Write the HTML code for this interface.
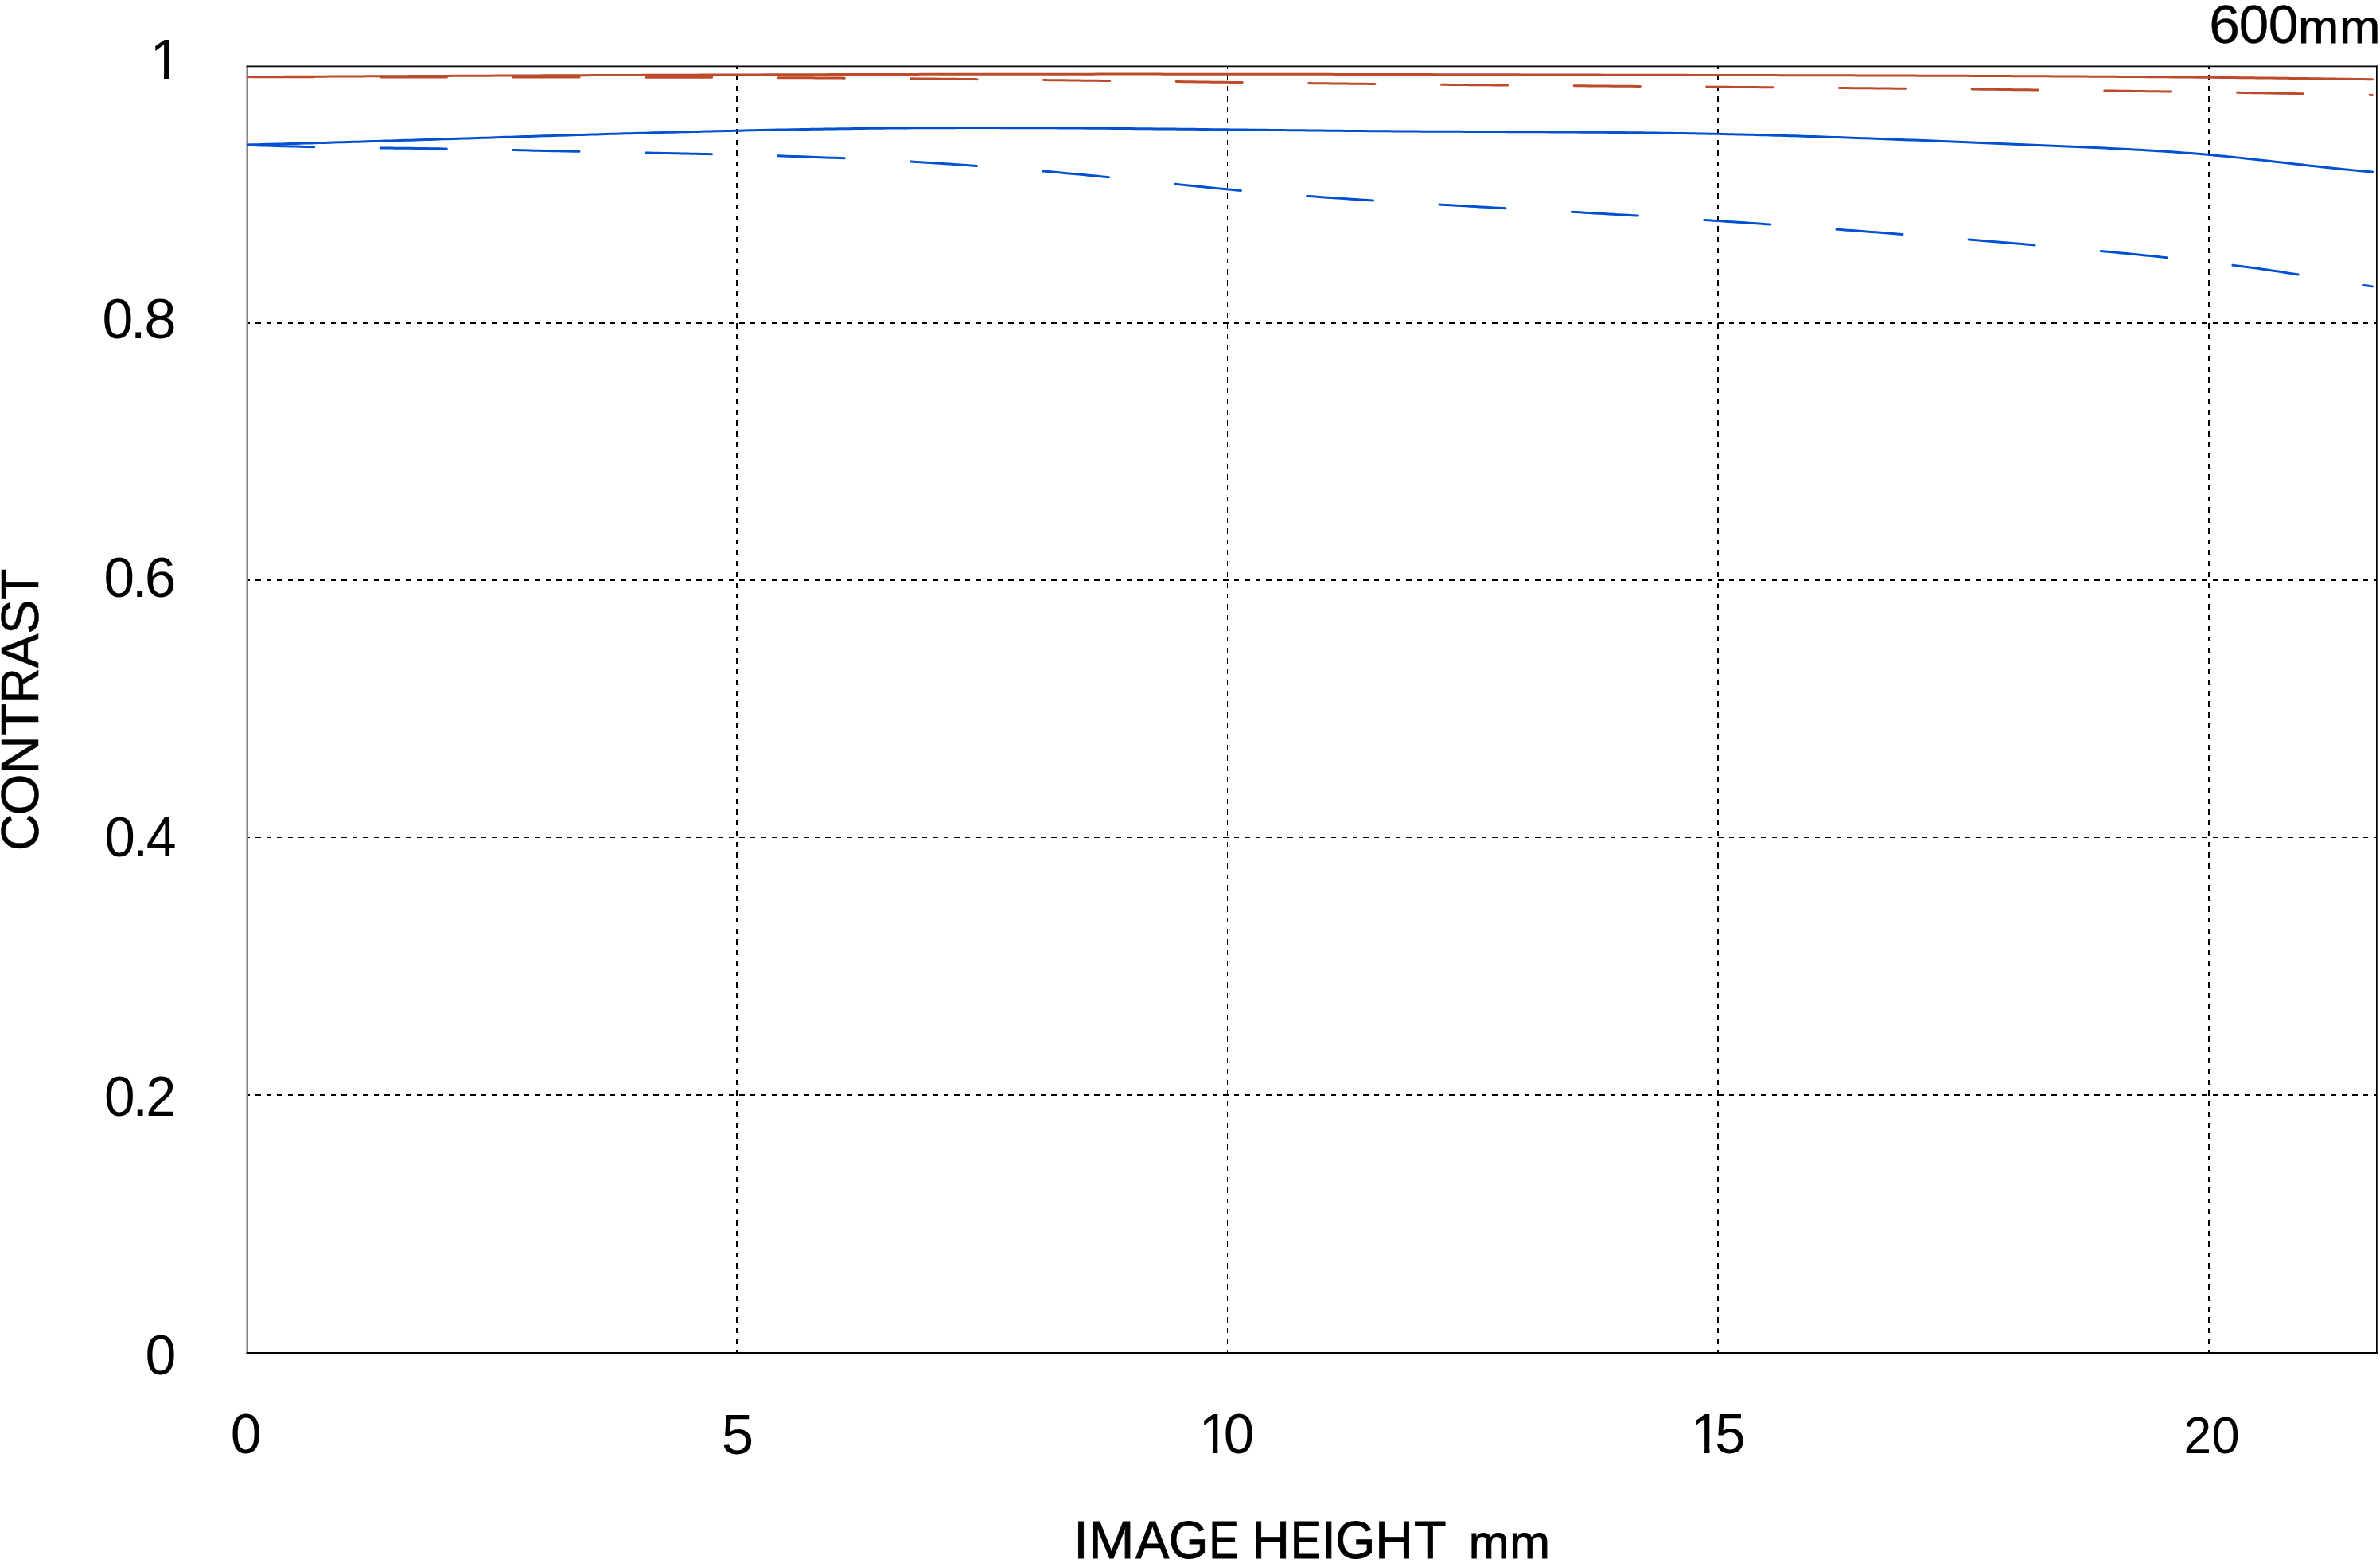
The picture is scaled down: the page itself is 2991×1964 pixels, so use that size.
<!DOCTYPE html><html><head><meta charset="utf-8"><title>MTF 600mm</title><style>html,body{margin:0;padding:0;background:#fff;width:2991px;height:1964px;overflow:hidden}svg{display:block}text{font-family:"Liberation Sans",Arial,sans-serif;fill:#000}</style></head><body>
<svg width="2991" height="1964" viewBox="0 0 2991 1964">
<rect width="2991" height="1964" fill="#fff"/>
<g stroke="#000" fill="none" shape-rendering="crispEdges">
<line x1="926" y1="84" x2="926" y2="1699" stroke-width="2" stroke-dasharray="6.5 7.075" stroke-dashoffset="-10.075"/>
<line x1="1542.5" y1="84" x2="1542.5" y2="1699" stroke-width="1" stroke-dasharray="6.5 7.075" stroke-dashoffset="-10.075"/>
<line x1="2159" y1="84" x2="2159" y2="1699" stroke-width="2" stroke-dasharray="6.5 7.075" stroke-dashoffset="-10.075"/>
<line x1="2776" y1="84" x2="2776" y2="1699" stroke-width="2" stroke-dasharray="6.5 7.075" stroke-dashoffset="-10.075"/>
<line x1="312" y1="406" x2="2986" y2="406" stroke-width="2" stroke-dasharray="6.5 7.015" stroke-dashoffset="-9.000"/>
<line x1="312" y1="729" x2="2986" y2="729" stroke-width="2" stroke-dasharray="6.5 7.015" stroke-dashoffset="-9.000"/>
<line x1="312" y1="1052.5" x2="2986" y2="1052.5" stroke-width="1" stroke-dasharray="6.5 7.015" stroke-dashoffset="-9.000"/>
<line x1="312" y1="1376" x2="2986" y2="1376" stroke-width="2" stroke-dasharray="6.5 7.015" stroke-dashoffset="-9.000"/>
</g>
<g stroke="#000" fill="none"><line x1="309.7" y1="83.35" x2="2987.7" y2="83.35" stroke-width="1.75"/><line x1="309.7" y1="1700.05" x2="2987.7" y2="1700.05" stroke-width="1.9"/><line x1="310.6" y1="82.5" x2="310.6" y2="1701" stroke-width="1.75"/><line x1="2986.85" y1="82.5" x2="2986.85" y2="1701" stroke-width="1.7"/></g>
<g fill="none" stroke-width="3" stroke-linecap="round" stroke-linejoin="round">
<path stroke="#bd4a2b" d="M311.5 96.61 L317.5 96.58 L323.5 96.55 L329.5 96.52 L335.5 96.49 L341.5 96.46 L347.5 96.43 L353.5 96.40 L359.5 96.37 L365.5 96.34 L371.5 96.31 L377.5 96.28 L383.5 96.25 L389.5 96.22 L395.5 96.19 L401.5 96.16 L407.5 96.13 L413.5 96.10 L419.5 96.07 L425.5 96.05 L431.5 96.02 L437.5 95.99 L443.5 95.96 L449.5 95.93 L455.5 95.90 L461.5 95.87 L467.5 95.84 L473.5 95.81 L479.5 95.78 L485.5 95.76 L491.5 95.73 L497.5 95.70 L503.5 95.67 L509.5 95.64 L515.5 95.61 L521.5 95.59 L527.5 95.56 L533.5 95.53 L539.5 95.50 L545.5 95.47 L551.5 95.45 L557.5 95.42 L563.5 95.39 L569.5 95.36 L575.5 95.34 L581.5 95.31 L587.5 95.28 L593.5 95.26 L599.5 95.23 L605.5 95.20 L611.5 95.18 L617.5 95.15 L623.5 95.12 L629.5 95.10 L635.5 95.07 L641.5 95.04 L647.5 95.02 L653.5 94.99 L659.5 94.97 L665.5 94.94 L671.5 94.91 L677.5 94.89 L683.5 94.86 L689.5 94.84 L695.5 94.81 L701.5 94.79 L707.5 94.76 L713.5 94.74 L719.5 94.72 L725.5 94.69 L731.5 94.67 L737.5 94.64 L743.5 94.62 L749.5 94.59 L755.5 94.57 L761.5 94.55 L767.5 94.52 L773.5 94.50 L779.5 94.48 L785.5 94.45 L791.5 94.43 L797.5 94.41 L803.5 94.39 L809.5 94.36 L815.5 94.34 L821.5 94.32 L827.5 94.30 L833.5 94.28 L839.5 94.26 L845.5 94.23 L851.5 94.21 L857.5 94.19 L863.5 94.17 L869.5 94.15 L875.5 94.13 L881.5 94.11 L887.5 94.09 L893.5 94.07 L899.5 94.05 L905.5 94.03 L911.5 94.01 L917.5 93.99 L923.5 93.97 L929.5 93.95 L935.5 93.93 L941.5 93.91 L947.5 93.89 L953.5 93.88 L959.5 93.86 L965.5 93.84 L971.5 93.82 L977.5 93.81 L983.5 93.79 L989.5 93.77 L995.5 93.75 L1001.5 93.74 L1007.5 93.72 L1013.5 93.70 L1019.5 93.69 L1025.5 93.67 L1031.5 93.66 L1037.5 93.64 L1043.5 93.62 L1049.5 93.61 L1055.5 93.59 L1061.5 93.58 L1067.5 93.56 L1073.5 93.55 L1079.5 93.54 L1085.5 93.52 L1091.5 93.51 L1097.5 93.49 L1103.5 93.48 L1109.5 93.47 L1115.5 93.46 L1121.5 93.44 L1127.5 93.43 L1133.5 93.42 L1139.5 93.41 L1145.5 93.39 L1151.5 93.38 L1157.5 93.37 L1163.5 93.36 L1169.5 93.35 L1175.5 93.34 L1181.5 93.33 L1187.5 93.32 L1193.5 93.31 L1199.5 93.30 L1205.5 93.29 L1211.5 93.28 L1217.5 93.27 L1223.5 93.26 L1229.5 93.25 L1235.5 93.25 L1241.5 93.24 L1247.5 93.23 L1253.5 93.22 L1259.5 93.21 L1265.5 93.21 L1271.5 93.20 L1277.5 93.19 L1283.5 93.19 L1289.5 93.18 L1295.5 93.18 L1301.5 93.17 L1307.5 93.17 L1313.5 93.16 L1319.5 93.16 L1325.5 93.15 L1331.5 93.15 L1337.5 93.14 L1343.5 93.14 L1349.5 93.14 L1355.5 93.13 L1361.5 93.13 L1367.5 93.13 L1373.5 93.13 L1379.5 93.12 L1385.5 93.12 L1391.5 93.12 L1397.5 93.12 L1403.5 93.12 L1409.5 93.12 L1415.5 93.12 L1421.5 93.12 L1427.5 93.12 L1433.5 93.12 L1439.5 93.12 L1445.5 93.12 L1451.5 93.12 L1457.5 93.12 L1463.5 93.13 L1469.5 93.13 L1475.5 93.13 L1481.5 93.13 L1487.5 93.14 L1493.5 93.14 L1499.5 93.15 L1505.5 93.15 L1511.5 93.15 L1517.5 93.16 L1523.5 93.16 L1529.5 93.17 L1535.5 93.17 L1541.5 93.18 L1547.5 93.19 L1553.5 93.19 L1559.5 93.20 L1565.5 93.21 L1571.5 93.21 L1577.5 93.22 L1583.5 93.23 L1589.5 93.23 L1595.5 93.24 L1601.5 93.25 L1607.5 93.26 L1613.5 93.27 L1619.5 93.28 L1625.5 93.29 L1631.5 93.30 L1637.5 93.30 L1643.5 93.31 L1649.5 93.32 L1655.5 93.33 L1661.5 93.34 L1667.5 93.35 L1673.5 93.37 L1679.5 93.38 L1685.5 93.39 L1691.5 93.40 L1697.5 93.41 L1703.5 93.42 L1709.5 93.43 L1715.5 93.44 L1721.5 93.46 L1727.5 93.47 L1733.5 93.48 L1739.5 93.49 L1745.5 93.50 L1751.5 93.52 L1757.5 93.53 L1763.5 93.54 L1769.5 93.56 L1775.5 93.57 L1781.5 93.58 L1787.5 93.59 L1793.5 93.61 L1799.5 93.62 L1805.5 93.63 L1811.5 93.65 L1817.5 93.66 L1823.5 93.68 L1829.5 93.69 L1835.5 93.70 L1841.5 93.72 L1847.5 93.73 L1853.5 93.75 L1859.5 93.76 L1865.5 93.77 L1871.5 93.79 L1877.5 93.80 L1883.5 93.82 L1889.5 93.83 L1895.5 93.84 L1901.5 93.86 L1907.5 93.87 L1913.5 93.89 L1919.5 93.90 L1925.5 93.92 L1931.5 93.93 L1937.5 93.95 L1943.5 93.96 L1949.5 93.97 L1955.5 93.99 L1961.5 94.00 L1967.5 94.02 L1973.5 94.03 L1979.5 94.05 L1985.5 94.06 L1991.5 94.08 L1997.5 94.09 L2003.5 94.10 L2009.5 94.12 L2015.5 94.13 L2021.5 94.15 L2027.5 94.16 L2033.5 94.17 L2039.5 94.19 L2045.5 94.20 L2051.5 94.22 L2057.5 94.23 L2063.5 94.24 L2069.5 94.26 L2075.5 94.27 L2081.5 94.28 L2087.5 94.30 L2093.5 94.31 L2099.5 94.32 L2105.5 94.34 L2111.5 94.35 L2117.5 94.36 L2123.5 94.38 L2129.5 94.39 L2135.5 94.40 L2141.5 94.42 L2147.5 94.43 L2153.5 94.44 L2159.5 94.46 L2165.5 94.47 L2171.5 94.48 L2177.5 94.50 L2183.5 94.51 L2189.5 94.52 L2195.5 94.54 L2201.5 94.55 L2207.5 94.56 L2213.5 94.58 L2219.5 94.59 L2225.5 94.61 L2231.5 94.62 L2237.5 94.63 L2243.5 94.65 L2249.5 94.66 L2255.5 94.68 L2261.5 94.69 L2267.5 94.71 L2273.5 94.72 L2279.5 94.74 L2285.5 94.75 L2291.5 94.77 L2297.5 94.78 L2303.5 94.80 L2309.5 94.82 L2315.5 94.83 L2321.5 94.85 L2327.5 94.87 L2333.5 94.88 L2339.5 94.90 L2345.5 94.92 L2351.5 94.94 L2357.5 94.96 L2363.5 94.97 L2369.5 94.99 L2375.5 95.01 L2381.5 95.03 L2387.5 95.05 L2393.5 95.07 L2399.5 95.09 L2405.5 95.11 L2411.5 95.13 L2417.5 95.15 L2423.5 95.17 L2429.5 95.20 L2435.5 95.22 L2441.5 95.24 L2447.5 95.26 L2453.5 95.29 L2459.5 95.31 L2465.5 95.34 L2471.5 95.36 L2477.5 95.39 L2483.5 95.41 L2489.5 95.44 L2495.5 95.46 L2501.5 95.49 L2507.5 95.52 L2513.5 95.54 L2519.5 95.57 L2525.5 95.60 L2531.5 95.63 L2537.5 95.66 L2543.5 95.69 L2549.5 95.72 L2555.5 95.75 L2561.5 95.78 L2567.5 95.81 L2573.5 95.84 L2579.5 95.88 L2585.5 95.91 L2591.5 95.95 L2597.5 95.98 L2603.5 96.01 L2609.5 96.05 L2615.5 96.09 L2621.5 96.12 L2627.5 96.16 L2633.5 96.20 L2639.5 96.24 L2645.5 96.28 L2651.5 96.32 L2657.5 96.36 L2663.5 96.40 L2669.5 96.44 L2675.5 96.48 L2681.5 96.52 L2687.5 96.57 L2693.5 96.61 L2699.5 96.66 L2705.5 96.70 L2711.5 96.75 L2717.5 96.80 L2723.5 96.84 L2729.5 96.89 L2735.5 96.94 L2741.5 96.99 L2747.5 97.04 L2753.5 97.10 L2759.5 97.15 L2765.5 97.20 L2771.5 97.26 L2777.5 97.31 L2783.5 97.37 L2789.5 97.42 L2795.5 97.48 L2801.5 97.54 L2807.5 97.60 L2813.5 97.66 L2819.5 97.72 L2825.5 97.78 L2831.5 97.85 L2837.5 97.91 L2843.5 97.98 L2849.5 98.04 L2855.5 98.11 L2861.5 98.18 L2867.5 98.25 L2873.5 98.32 L2879.5 98.39 L2885.5 98.46 L2891.5 98.53 L2897.5 98.61 L2903.5 98.68 L2909.5 98.76 L2915.5 98.84 L2921.5 98.91 L2927.5 98.99 L2933.5 99.07 L2939.5 99.16 L2945.5 99.24 L2951.5 99.32 L2957.5 99.41 L2963.5 99.50 L2969.5 99.58 L2975.5 99.67 L2981.5 99.76"/>
<path stroke="#bd4a2b" stroke-dasharray="83.20 83.47" d="M311.5 96.61 L317.5 96.63 L323.5 96.65 L329.5 96.67 L335.5 96.68 L341.5 96.70 L347.5 96.72 L353.5 96.73 L359.5 96.75 L365.5 96.76 L371.5 96.78 L377.5 96.79 L383.5 96.81 L389.5 96.82 L395.5 96.83 L401.5 96.84 L407.5 96.85 L413.5 96.86 L419.5 96.87 L425.5 96.88 L431.5 96.89 L437.5 96.90 L443.5 96.90 L449.5 96.91 L455.5 96.92 L461.5 96.93 L467.5 96.93 L473.5 96.94 L479.5 96.94 L485.5 96.95 L491.5 96.95 L497.5 96.96 L503.5 96.96 L509.5 96.97 L515.5 96.97 L521.5 96.97 L527.5 96.98 L533.5 96.98 L539.5 96.98 L545.5 96.98 L551.5 96.99 L557.5 96.99 L563.5 96.99 L569.5 96.99 L575.5 96.99 L581.5 97.00 L587.5 97.00 L593.5 97.00 L599.5 97.00 L605.5 97.00 L611.5 97.00 L617.5 97.00 L623.5 97.01 L629.5 97.01 L635.5 97.01 L641.5 97.01 L647.5 97.01 L653.5 97.01 L659.5 97.02 L665.5 97.02 L671.5 97.02 L677.5 97.02 L683.5 97.02 L689.5 97.03 L695.5 97.03 L701.5 97.03 L707.5 97.04 L713.5 97.04 L719.5 97.04 L725.5 97.05 L731.5 97.05 L737.5 97.05 L743.5 97.06 L749.5 97.06 L755.5 97.07 L761.5 97.08 L767.5 97.08 L773.5 97.09 L779.5 97.10 L785.5 97.10 L791.5 97.11 L797.5 97.12 L803.5 97.13 L809.5 97.14 L815.5 97.15 L821.5 97.16 L827.5 97.17 L833.5 97.18 L839.5 97.19 L845.5 97.20 L851.5 97.21 L857.5 97.23 L863.5 97.24 L869.5 97.26 L875.5 97.27 L881.5 97.29 L887.5 97.31 L893.5 97.32 L899.5 97.34 L905.5 97.36 L911.5 97.38 L917.5 97.40 L923.5 97.42 L929.5 97.44 L935.5 97.46 L941.5 97.49 L947.5 97.51 L953.5 97.54 L959.5 97.56 L965.5 97.59 L971.5 97.62 L977.5 97.65 L983.5 97.68 L989.5 97.71 L995.5 97.74 L1001.5 97.77 L1007.5 97.80 L1013.5 97.84 L1019.5 97.87 L1025.5 97.91 L1031.5 97.95 L1037.5 97.98 L1043.5 98.02 L1049.5 98.06 L1055.5 98.11 L1061.5 98.15 L1067.5 98.19 L1073.5 98.23 L1079.5 98.28 L1085.5 98.32 L1091.5 98.37 L1097.5 98.42 L1103.5 98.47 L1109.5 98.52 L1115.5 98.57 L1121.5 98.62 L1127.5 98.67 L1133.5 98.72 L1139.5 98.77 L1145.5 98.83 L1151.5 98.88 L1157.5 98.94 L1163.5 98.99 L1169.5 99.05 L1175.5 99.11 L1181.5 99.17 L1187.5 99.22 L1193.5 99.28 L1199.5 99.34 L1205.5 99.40 L1211.5 99.46 L1217.5 99.53 L1223.5 99.59 L1229.5 99.65 L1235.5 99.71 L1241.5 99.78 L1247.5 99.84 L1253.5 99.91 L1259.5 99.97 L1265.5 100.04 L1271.5 100.11 L1277.5 100.17 L1283.5 100.24 L1289.5 100.31 L1295.5 100.38 L1301.5 100.44 L1307.5 100.51 L1313.5 100.58 L1319.5 100.65 L1325.5 100.72 L1331.5 100.79 L1337.5 100.86 L1343.5 100.93 L1349.5 101.00 L1355.5 101.08 L1361.5 101.15 L1367.5 101.22 L1373.5 101.29 L1379.5 101.36 L1385.5 101.44 L1391.5 101.51 L1397.5 101.58 L1403.5 101.66 L1409.5 101.73 L1415.5 101.80 L1421.5 101.88 L1427.5 101.95 L1433.5 102.02 L1439.5 102.10 L1445.5 102.17 L1451.5 102.24 L1457.5 102.32 L1463.5 102.39 L1469.5 102.47 L1475.5 102.54 L1481.5 102.61 L1487.5 102.69 L1493.5 102.76 L1499.5 102.84 L1505.5 102.91 L1511.5 102.98 L1517.5 103.06 L1523.5 103.13 L1529.5 103.20 L1535.5 103.28 L1541.5 103.35 L1547.5 103.42 L1553.5 103.50 L1559.5 103.57 L1565.5 103.64 L1571.5 103.71 L1577.5 103.78 L1583.5 103.86 L1589.5 103.93 L1595.5 104.00 L1601.5 104.07 L1607.5 104.14 L1613.5 104.21 L1619.5 104.28 L1625.5 104.35 L1631.5 104.42 L1637.5 104.49 L1643.5 104.56 L1649.5 104.63 L1655.5 104.69 L1661.5 104.76 L1667.5 104.83 L1673.5 104.89 L1679.5 104.96 L1685.5 105.02 L1691.5 105.09 L1697.5 105.15 L1703.5 105.22 L1709.5 105.28 L1715.5 105.35 L1721.5 105.41 L1727.5 105.47 L1733.5 105.53 L1739.5 105.59 L1745.5 105.65 L1751.5 105.71 L1757.5 105.77 L1763.5 105.83 L1769.5 105.89 L1775.5 105.95 L1781.5 106.01 L1787.5 106.07 L1793.5 106.13 L1799.5 106.18 L1805.5 106.24 L1811.5 106.30 L1817.5 106.36 L1823.5 106.41 L1829.5 106.47 L1835.5 106.52 L1841.5 106.58 L1847.5 106.63 L1853.5 106.69 L1859.5 106.74 L1865.5 106.80 L1871.5 106.85 L1877.5 106.90 L1883.5 106.96 L1889.5 107.01 L1895.5 107.06 L1901.5 107.11 L1907.5 107.17 L1913.5 107.22 L1919.5 107.27 L1925.5 107.32 L1931.5 107.37 L1937.5 107.42 L1943.5 107.47 L1949.5 107.52 L1955.5 107.58 L1961.5 107.63 L1967.5 107.68 L1973.5 107.73 L1979.5 107.78 L1985.5 107.83 L1991.5 107.87 L1997.5 107.92 L2003.5 107.97 L2009.5 108.02 L2015.5 108.07 L2021.5 108.12 L2027.5 108.17 L2033.5 108.22 L2039.5 108.27 L2045.5 108.32 L2051.5 108.36 L2057.5 108.41 L2063.5 108.46 L2069.5 108.51 L2075.5 108.56 L2081.5 108.61 L2087.5 108.65 L2093.5 108.70 L2099.5 108.75 L2105.5 108.80 L2111.5 108.85 L2117.5 108.90 L2123.5 108.94 L2129.5 108.99 L2135.5 109.04 L2141.5 109.09 L2147.5 109.14 L2153.5 109.19 L2159.5 109.23 L2165.5 109.28 L2171.5 109.33 L2177.5 109.38 L2183.5 109.43 L2189.5 109.48 L2195.5 109.53 L2201.5 109.58 L2207.5 109.62 L2213.5 109.67 L2219.5 109.72 L2225.5 109.77 L2231.5 109.82 L2237.5 109.87 L2243.5 109.92 L2249.5 109.97 L2255.5 110.02 L2261.5 110.07 L2267.5 110.12 L2273.5 110.17 L2279.5 110.22 L2285.5 110.28 L2291.5 110.33 L2297.5 110.38 L2303.5 110.43 L2309.5 110.48 L2315.5 110.53 L2321.5 110.59 L2327.5 110.64 L2333.5 110.69 L2339.5 110.75 L2345.5 110.80 L2351.5 110.85 L2357.5 110.91 L2363.5 110.96 L2369.5 111.02 L2375.5 111.07 L2381.5 111.13 L2387.5 111.18 L2393.5 111.24 L2399.5 111.29 L2405.5 111.35 L2411.5 111.41 L2417.5 111.46 L2423.5 111.52 L2429.5 111.58 L2435.5 111.64 L2441.5 111.70 L2447.5 111.76 L2453.5 111.82 L2459.5 111.88 L2465.5 111.94 L2471.5 112.00 L2477.5 112.06 L2483.5 112.12 L2489.5 112.18 L2495.5 112.24 L2501.5 112.31 L2507.5 112.37 L2513.5 112.43 L2519.5 112.50 L2525.5 112.56 L2531.5 112.63 L2537.5 112.69 L2543.5 112.76 L2549.5 112.83 L2555.5 112.89 L2561.5 112.96 L2567.5 113.03 L2573.5 113.10 L2579.5 113.17 L2585.5 113.24 L2591.5 113.31 L2597.5 113.38 L2603.5 113.45 L2609.5 113.52 L2615.5 113.59 L2621.5 113.67 L2627.5 113.74 L2633.5 113.81 L2639.5 113.89 L2645.5 113.96 L2651.5 114.04 L2657.5 114.12 L2663.5 114.19 L2669.5 114.27 L2675.5 114.35 L2681.5 114.43 L2687.5 114.51 L2693.5 114.59 L2699.5 114.67 L2705.5 114.75 L2711.5 114.84 L2717.5 114.92 L2723.5 115.00 L2729.5 115.09 L2735.5 115.17 L2741.5 115.26 L2747.5 115.35 L2753.5 115.44 L2759.5 115.52 L2765.5 115.61 L2771.5 115.70 L2777.5 115.79 L2783.5 115.88 L2789.5 115.98 L2795.5 116.07 L2801.5 116.16 L2807.5 116.26 L2813.5 116.35 L2819.5 116.45 L2825.5 116.55 L2831.5 116.64 L2837.5 116.74 L2843.5 116.84 L2849.5 116.94 L2855.5 117.04 L2861.5 117.15 L2867.5 117.25 L2873.5 117.35 L2879.5 117.46 L2885.5 117.56 L2891.5 117.67 L2897.5 117.78 L2903.5 117.88 L2909.5 117.99 L2915.5 118.10 L2921.5 118.21 L2927.5 118.33 L2933.5 118.44 L2939.5 118.55 L2945.5 118.67 L2951.5 118.78 L2957.5 118.90 L2963.5 119.02 L2969.5 119.14 L2975.5 119.26 L2981.5 119.38"/>
<path stroke="#0050d2" d="M311.5 181.97 L317.5 181.82 L323.5 181.66 L329.5 181.51 L335.5 181.35 L341.5 181.20 L347.5 181.04 L353.5 180.88 L359.5 180.72 L365.5 180.56 L371.5 180.39 L377.5 180.23 L383.5 180.06 L389.5 179.89 L395.5 179.72 L401.5 179.55 L407.5 179.38 L413.5 179.21 L419.5 179.03 L425.5 178.86 L431.5 178.68 L437.5 178.51 L443.5 178.33 L449.5 178.15 L455.5 177.97 L461.5 177.79 L467.5 177.61 L473.5 177.43 L479.5 177.25 L485.5 177.06 L491.5 176.88 L497.5 176.70 L503.5 176.51 L509.5 176.33 L515.5 176.14 L521.5 175.95 L527.5 175.77 L533.5 175.58 L539.5 175.39 L545.5 175.20 L551.5 175.02 L557.5 174.83 L563.5 174.64 L569.5 174.45 L575.5 174.26 L581.5 174.07 L587.5 173.88 L593.5 173.69 L599.5 173.50 L605.5 173.32 L611.5 173.13 L617.5 172.94 L623.5 172.75 L629.5 172.56 L635.5 172.37 L641.5 172.18 L647.5 171.99 L653.5 171.81 L659.5 171.62 L665.5 171.43 L671.5 171.25 L677.5 171.06 L683.5 170.87 L689.5 170.69 L695.5 170.50 L701.5 170.32 L707.5 170.14 L713.5 169.95 L719.5 169.77 L725.5 169.59 L731.5 169.41 L737.5 169.23 L743.5 169.05 L749.5 168.88 L755.5 168.70 L761.5 168.52 L767.5 168.35 L773.5 168.17 L779.5 168.00 L785.5 167.83 L791.5 167.66 L797.5 167.49 L803.5 167.32 L809.5 167.15 L815.5 166.99 L821.5 166.82 L827.5 166.66 L833.5 166.50 L839.5 166.34 L845.5 166.18 L851.5 166.02 L857.5 165.87 L863.5 165.71 L869.5 165.56 L875.5 165.41 L881.5 165.26 L887.5 165.11 L893.5 164.96 L899.5 164.82 L905.5 164.68 L911.5 164.54 L917.5 164.40 L923.5 164.26 L929.5 164.13 L935.5 163.99 L941.5 163.86 L947.5 163.73 L953.5 163.61 L959.5 163.48 L965.5 163.36 L971.5 163.24 L977.5 163.12 L983.5 163.01 L989.5 162.89 L995.5 162.78 L1001.5 162.67 L1007.5 162.57 L1013.5 162.46 L1019.5 162.36 L1025.5 162.26 L1031.5 162.17 L1037.5 162.07 L1043.5 161.98 L1049.5 161.89 L1055.5 161.81 L1061.5 161.73 L1067.5 161.65 L1073.5 161.57 L1079.5 161.49 L1085.5 161.42 L1091.5 161.35 L1097.5 161.29 L1103.5 161.23 L1109.5 161.17 L1115.5 161.11 L1121.5 161.06 L1127.5 161.00 L1133.5 160.96 L1139.5 160.91 L1145.5 160.87 L1151.5 160.83 L1157.5 160.80 L1163.5 160.77 L1169.5 160.74 L1175.5 160.71 L1181.5 160.69 L1187.5 160.67 L1193.5 160.65 L1199.5 160.64 L1205.5 160.62 L1211.5 160.61 L1217.5 160.61 L1223.5 160.60 L1229.5 160.60 L1235.5 160.60 L1241.5 160.60 L1247.5 160.61 L1253.5 160.62 L1259.5 160.63 L1265.5 160.64 L1271.5 160.65 L1277.5 160.67 L1283.5 160.69 L1289.5 160.71 L1295.5 160.73 L1301.5 160.76 L1307.5 160.78 L1313.5 160.81 L1319.5 160.84 L1325.5 160.87 L1331.5 160.91 L1337.5 160.94 L1343.5 160.98 L1349.5 161.02 L1355.5 161.06 L1361.5 161.10 L1367.5 161.14 L1373.5 161.19 L1379.5 161.23 L1385.5 161.28 L1391.5 161.33 L1397.5 161.38 L1403.5 161.43 L1409.5 161.48 L1415.5 161.54 L1421.5 161.59 L1427.5 161.65 L1433.5 161.70 L1439.5 161.76 L1445.5 161.82 L1451.5 161.88 L1457.5 161.94 L1463.5 162.00 L1469.5 162.06 L1475.5 162.12 L1481.5 162.18 L1487.5 162.25 L1493.5 162.31 L1499.5 162.37 L1505.5 162.44 L1511.5 162.50 L1517.5 162.57 L1523.5 162.63 L1529.5 162.70 L1535.5 162.76 L1541.5 162.83 L1547.5 162.90 L1553.5 162.96 L1559.5 163.03 L1565.5 163.10 L1571.5 163.16 L1577.5 163.23 L1583.5 163.29 L1589.5 163.36 L1595.5 163.43 L1601.5 163.49 L1607.5 163.56 L1613.5 163.62 L1619.5 163.68 L1625.5 163.75 L1631.5 163.81 L1637.5 163.87 L1643.5 163.94 L1649.5 164.00 L1655.5 164.06 L1661.5 164.12 L1667.5 164.18 L1673.5 164.23 L1679.5 164.29 L1685.5 164.35 L1691.5 164.40 L1697.5 164.46 L1703.5 164.51 L1709.5 164.56 L1715.5 164.62 L1721.5 164.67 L1727.5 164.71 L1733.5 164.76 L1739.5 164.81 L1745.5 164.85 L1751.5 164.90 L1757.5 164.94 L1763.5 164.98 L1769.5 165.02 L1775.5 165.06 L1781.5 165.09 L1787.5 165.13 L1793.5 165.16 L1799.5 165.19 L1805.5 165.22 L1811.5 165.25 L1817.5 165.28 L1823.5 165.31 L1829.5 165.34 L1835.5 165.37 L1841.5 165.40 L1847.5 165.42 L1853.5 165.45 L1859.5 165.48 L1865.5 165.50 L1871.5 165.53 L1877.5 165.56 L1883.5 165.58 L1889.5 165.61 L1895.5 165.64 L1901.5 165.66 L1907.5 165.69 L1913.5 165.72 L1919.5 165.75 L1925.5 165.78 L1931.5 165.81 L1937.5 165.84 L1943.5 165.87 L1949.5 165.90 L1955.5 165.94 L1961.5 165.97 L1967.5 166.01 L1973.5 166.05 L1979.5 166.09 L1985.5 166.13 L1991.5 166.17 L1997.5 166.21 L2003.5 166.26 L2009.5 166.31 L2015.5 166.36 L2021.5 166.41 L2027.5 166.47 L2033.5 166.52 L2039.5 166.58 L2045.5 166.64 L2051.5 166.71 L2057.5 166.77 L2063.5 166.84 L2069.5 166.91 L2075.5 166.99 L2081.5 167.06 L2087.5 167.14 L2093.5 167.23 L2099.5 167.31 L2105.5 167.40 L2111.5 167.50 L2117.5 167.59 L2123.5 167.69 L2129.5 167.80 L2135.5 167.91 L2141.5 168.02 L2147.5 168.13 L2153.5 168.25 L2159.5 168.37 L2165.5 168.50 L2171.5 168.63 L2177.5 168.77 L2183.5 168.91 L2189.5 169.05 L2195.5 169.19 L2201.5 169.34 L2207.5 169.50 L2213.5 169.66 L2219.5 169.82 L2225.5 169.98 L2231.5 170.15 L2237.5 170.32 L2243.5 170.49 L2249.5 170.67 L2255.5 170.85 L2261.5 171.03 L2267.5 171.22 L2273.5 171.40 L2279.5 171.60 L2285.5 171.79 L2291.5 171.99 L2297.5 172.18 L2303.5 172.39 L2309.5 172.59 L2315.5 172.80 L2321.5 173.00 L2327.5 173.22 L2333.5 173.43 L2339.5 173.64 L2345.5 173.86 L2351.5 174.08 L2357.5 174.30 L2363.5 174.52 L2369.5 174.75 L2375.5 174.97 L2381.5 175.20 L2387.5 175.43 L2393.5 175.66 L2399.5 175.89 L2405.5 176.12 L2411.5 176.36 L2417.5 176.60 L2423.5 176.83 L2429.5 177.07 L2435.5 177.31 L2441.5 177.55 L2447.5 177.79 L2453.5 178.03 L2459.5 178.27 L2465.5 178.51 L2471.5 178.76 L2477.5 179.00 L2483.5 179.25 L2489.5 179.49 L2495.5 179.73 L2501.5 179.98 L2507.5 180.22 L2513.5 180.47 L2519.5 180.71 L2525.5 180.96 L2531.5 181.20 L2537.5 181.45 L2543.5 181.69 L2549.5 181.94 L2555.5 182.18 L2561.5 182.43 L2567.5 182.67 L2573.5 182.92 L2579.5 183.17 L2585.5 183.42 L2591.5 183.67 L2597.5 183.92 L2603.5 184.18 L2609.5 184.44 L2615.5 184.70 L2621.5 184.97 L2627.5 185.24 L2633.5 185.52 L2639.5 185.80 L2645.5 186.09 L2651.5 186.38 L2657.5 186.68 L2663.5 186.98 L2669.5 187.29 L2675.5 187.61 L2681.5 187.94 L2687.5 188.27 L2693.5 188.61 L2699.5 188.96 L2705.5 189.32 L2711.5 189.69 L2717.5 190.07 L2723.5 190.46 L2729.5 190.86 L2735.5 191.28 L2741.5 191.71 L2747.5 192.15 L2753.5 192.61 L2759.5 193.09 L2765.5 193.58 L2771.5 194.09 L2777.5 194.61 L2783.5 195.16 L2789.5 195.72 L2795.5 196.30 L2801.5 196.89 L2807.5 197.50 L2813.5 198.12 L2819.5 198.75 L2825.5 199.39 L2831.5 200.05 L2837.5 200.71 L2843.5 201.37 L2849.5 202.04 L2855.5 202.72 L2861.5 203.40 L2867.5 204.09 L2873.5 204.77 L2879.5 205.46 L2885.5 206.14 L2891.5 206.82 L2897.5 207.50 L2903.5 208.17 L2909.5 208.84 L2915.5 209.51 L2921.5 210.16 L2927.5 210.81 L2933.5 211.45 L2939.5 212.07 L2945.5 212.68 L2951.5 213.28 L2957.5 213.87 L2963.5 214.44 L2969.5 214.99 L2975.5 215.53 L2981.5 216.05"/>
<path stroke="#0050d2" stroke-dasharray="83.20 83.47" d="M311.5 182.23 L317.5 182.46 L323.5 182.68 L329.5 182.89 L335.5 183.10 L341.5 183.29 L347.5 183.47 L353.5 183.65 L359.5 183.81 L365.5 183.97 L371.5 184.12 L377.5 184.27 L383.5 184.40 L389.5 184.53 L395.5 184.66 L401.5 184.77 L407.5 184.88 L413.5 184.99 L419.5 185.09 L425.5 185.19 L431.5 185.28 L437.5 185.37 L443.5 185.46 L449.5 185.54 L455.5 185.62 L461.5 185.70 L467.5 185.77 L473.5 185.85 L479.5 185.92 L485.5 185.99 L491.5 186.06 L497.5 186.13 L503.5 186.20 L509.5 186.28 L515.5 186.35 L521.5 186.42 L527.5 186.50 L533.5 186.57 L539.5 186.65 L545.5 186.74 L551.5 186.82 L557.5 186.91 L563.5 187.00 L569.5 187.10 L575.5 187.20 L581.5 187.30 L587.5 187.41 L593.5 187.52 L599.5 187.63 L605.5 187.74 L611.5 187.86 L617.5 187.98 L623.5 188.10 L629.5 188.23 L635.5 188.35 L641.5 188.48 L647.5 188.61 L653.5 188.74 L659.5 188.87 L665.5 189.00 L671.5 189.13 L677.5 189.26 L683.5 189.39 L689.5 189.53 L695.5 189.66 L701.5 189.79 L707.5 189.92 L713.5 190.05 L719.5 190.17 L725.5 190.30 L731.5 190.42 L737.5 190.55 L743.5 190.67 L749.5 190.79 L755.5 190.91 L761.5 191.03 L767.5 191.14 L773.5 191.26 L779.5 191.38 L785.5 191.49 L791.5 191.61 L797.5 191.72 L803.5 191.84 L809.5 191.95 L815.5 192.07 L821.5 192.18 L827.5 192.30 L833.5 192.42 L839.5 192.53 L845.5 192.65 L851.5 192.77 L857.5 192.89 L863.5 193.02 L869.5 193.14 L875.5 193.27 L881.5 193.40 L887.5 193.53 L893.5 193.66 L899.5 193.79 L905.5 193.93 L911.5 194.07 L917.5 194.22 L923.5 194.36 L929.5 194.51 L935.5 194.66 L941.5 194.82 L947.5 194.98 L953.5 195.14 L959.5 195.31 L965.5 195.48 L971.5 195.65 L977.5 195.83 L983.5 196.02 L989.5 196.20 L995.5 196.40 L1001.5 196.59 L1007.5 196.80 L1013.5 197.00 L1019.5 197.22 L1025.5 197.44 L1031.5 197.66 L1037.5 197.89 L1043.5 198.13 L1049.5 198.37 L1055.5 198.62 L1061.5 198.87 L1067.5 199.13 L1073.5 199.40 L1079.5 199.68 L1085.5 199.96 L1091.5 200.24 L1097.5 200.54 L1103.5 200.84 L1109.5 201.14 L1115.5 201.46 L1121.5 201.78 L1127.5 202.10 L1133.5 202.43 L1139.5 202.77 L1145.5 203.12 L1151.5 203.47 L1157.5 203.83 L1163.5 204.19 L1169.5 204.56 L1175.5 204.94 L1181.5 205.32 L1187.5 205.71 L1193.5 206.10 L1199.5 206.50 L1205.5 206.91 L1211.5 207.32 L1217.5 207.74 L1223.5 208.17 L1229.5 208.60 L1235.5 209.03 L1241.5 209.48 L1247.5 209.93 L1253.5 210.38 L1259.5 210.85 L1265.5 211.31 L1271.5 211.79 L1277.5 212.27 L1283.5 212.75 L1289.5 213.24 L1295.5 213.74 L1301.5 214.24 L1307.5 214.75 L1313.5 215.27 L1319.5 215.79 L1325.5 216.32 L1331.5 216.85 L1337.5 217.39 L1343.5 217.93 L1349.5 218.48 L1355.5 219.04 L1361.5 219.60 L1367.5 220.17 L1373.5 220.74 L1379.5 221.32 L1385.5 221.90 L1391.5 222.49 L1397.5 223.09 L1403.5 223.69 L1409.5 224.30 L1415.5 224.91 L1421.5 225.52 L1427.5 226.14 L1433.5 226.76 L1439.5 227.38 L1445.5 228.01 L1451.5 228.63 L1457.5 229.26 L1463.5 229.88 L1469.5 230.51 L1475.5 231.13 L1481.5 231.75 L1487.5 232.37 L1493.5 232.99 L1499.5 233.61 L1505.5 234.22 L1511.5 234.83 L1517.5 235.43 L1523.5 236.03 L1529.5 236.62 L1535.5 237.20 L1541.5 237.78 L1547.5 238.35 L1553.5 238.92 L1559.5 239.47 L1565.5 240.02 L1571.5 240.55 L1577.5 241.08 L1583.5 241.60 L1589.5 242.12 L1595.5 242.62 L1601.5 243.12 L1607.5 243.61 L1613.5 244.09 L1619.5 244.56 L1625.5 245.03 L1631.5 245.49 L1637.5 245.94 L1643.5 246.39 L1649.5 246.83 L1655.5 247.27 L1661.5 247.70 L1667.5 248.13 L1673.5 248.54 L1679.5 248.96 L1685.5 249.37 L1691.5 249.77 L1697.5 250.17 L1703.5 250.57 L1709.5 250.96 L1715.5 251.35 L1721.5 251.74 L1727.5 252.12 L1733.5 252.49 L1739.5 252.87 L1745.5 253.24 L1751.5 253.61 L1757.5 253.98 L1763.5 254.34 L1769.5 254.70 L1775.5 255.06 L1781.5 255.42 L1787.5 255.77 L1793.5 256.12 L1799.5 256.47 L1805.5 256.82 L1811.5 257.16 L1817.5 257.51 L1823.5 257.85 L1829.5 258.19 L1835.5 258.53 L1841.5 258.87 L1847.5 259.21 L1853.5 259.54 L1859.5 259.88 L1865.5 260.21 L1871.5 260.54 L1877.5 260.88 L1883.5 261.21 L1889.5 261.54 L1895.5 261.87 L1901.5 262.20 L1907.5 262.53 L1913.5 262.86 L1919.5 263.19 L1925.5 263.52 L1931.5 263.86 L1937.5 264.19 L1943.5 264.52 L1949.5 264.85 L1955.5 265.18 L1961.5 265.52 L1967.5 265.85 L1973.5 266.19 L1979.5 266.53 L1985.5 266.86 L1991.5 267.20 L1997.5 267.55 L2003.5 267.89 L2009.5 268.23 L2015.5 268.58 L2021.5 268.93 L2027.5 269.28 L2033.5 269.63 L2039.5 269.98 L2045.5 270.34 L2051.5 270.70 L2057.5 271.06 L2063.5 271.42 L2069.5 271.79 L2075.5 272.16 L2081.5 272.53 L2087.5 272.91 L2093.5 273.28 L2099.5 273.66 L2105.5 274.04 L2111.5 274.43 L2117.5 274.81 L2123.5 275.20 L2129.5 275.59 L2135.5 275.99 L2141.5 276.38 L2147.5 276.78 L2153.5 277.18 L2159.5 277.58 L2165.5 277.99 L2171.5 278.39 L2177.5 278.80 L2183.5 279.21 L2189.5 279.62 L2195.5 280.04 L2201.5 280.45 L2207.5 280.87 L2213.5 281.29 L2219.5 281.72 L2225.5 282.14 L2231.5 282.56 L2237.5 282.99 L2243.5 283.42 L2249.5 283.85 L2255.5 284.29 L2261.5 284.72 L2267.5 285.16 L2273.5 285.59 L2279.5 286.03 L2285.5 286.47 L2291.5 286.92 L2297.5 287.36 L2303.5 287.80 L2309.5 288.25 L2315.5 288.70 L2321.5 289.15 L2327.5 289.60 L2333.5 290.05 L2339.5 290.50 L2345.5 290.96 L2351.5 291.41 L2357.5 291.87 L2363.5 292.33 L2369.5 292.79 L2375.5 293.25 L2381.5 293.71 L2387.5 294.17 L2393.5 294.63 L2399.5 295.10 L2405.5 295.56 L2411.5 296.03 L2417.5 296.50 L2423.5 296.97 L2429.5 297.44 L2435.5 297.91 L2441.5 298.38 L2447.5 298.86 L2453.5 299.33 L2459.5 299.81 L2465.5 300.29 L2471.5 300.78 L2477.5 301.26 L2483.5 301.75 L2489.5 302.23 L2495.5 302.72 L2501.5 303.22 L2507.5 303.71 L2513.5 304.21 L2519.5 304.71 L2525.5 305.21 L2531.5 305.72 L2537.5 306.23 L2543.5 306.74 L2549.5 307.25 L2555.5 307.77 L2561.5 308.29 L2567.5 308.81 L2573.5 309.34 L2579.5 309.87 L2585.5 310.40 L2591.5 310.94 L2597.5 311.48 L2603.5 312.02 L2609.5 312.57 L2615.5 313.12 L2621.5 313.67 L2627.5 314.23 L2633.5 314.79 L2639.5 315.36 L2645.5 315.93 L2651.5 316.50 L2657.5 317.08 L2663.5 317.67 L2669.5 318.25 L2675.5 318.85 L2681.5 319.44 L2687.5 320.04 L2693.5 320.65 L2699.5 321.26 L2705.5 321.88 L2711.5 322.50 L2717.5 323.12 L2723.5 323.75 L2729.5 324.39 L2735.5 325.03 L2741.5 325.68 L2747.5 326.33 L2753.5 326.99 L2759.5 327.66 L2765.5 328.34 L2771.5 329.03 L2777.5 329.73 L2783.5 330.43 L2789.5 331.15 L2795.5 331.88 L2801.5 332.62 L2807.5 333.38 L2813.5 334.15 L2819.5 334.93 L2825.5 335.72 L2831.5 336.54 L2837.5 337.36 L2843.5 338.20 L2849.5 339.06 L2855.5 339.94 L2861.5 340.83 L2867.5 341.74 L2873.5 342.67 L2879.5 343.62 L2885.5 344.59 L2891.5 345.59 L2897.5 346.59 L2903.5 347.62 L2909.5 348.65 L2915.5 349.68 L2921.5 350.71 L2927.5 351.74 L2933.5 352.75 L2939.5 353.75 L2945.5 354.72 L2951.5 355.67 L2957.5 356.58 L2963.5 357.46 L2969.5 358.29 L2975.5 359.08 L2981.5 359.88"/>
</g>
<defs><clipPath id="f0"><path clip-rule="evenodd" d="M168.50 18.50H248.50V118.50H168.50Z M192.95 90.64H206.00V108.50H192.95Z M212.40 90.64H224.73V108.50H212.40Z"/></clipPath><clipPath id="f1"><path clip-rule="evenodd" d="M1486.45 1745.90H1566.45V1845.90H1486.45Z M1510.90 1818.04H1523.95V1835.90H1510.90Z M1530.35 1818.04H1542.68V1835.90H1530.35Z"/></clipPath><clipPath id="f2"><path clip-rule="evenodd" d="M2104.60 1745.80H2184.60V1845.80H2104.60Z M2129.05 1817.94H2142.10V1835.80H2129.05Z M2148.50 1817.94H2160.83V1835.80H2148.50Z"/></clipPath></defs>
<g fill="#000"><text x="188.50" y="98.50" font-size="70" clip-path="url(#f0)">1</text>
<text y="424.90" font-size="70"><tspan x="128.38" textLength="38.74" lengthAdjust="spacingAndGlyphs">0</tspan><tspan x="163.88" textLength="19.84" lengthAdjust="spacingAndGlyphs">.</tspan><tspan x="181.15" textLength="40.30" lengthAdjust="spacingAndGlyphs">8</tspan></text>
<text y="750.20" font-size="70"><tspan x="130.50" textLength="38.51" lengthAdjust="spacingAndGlyphs">0</tspan><tspan x="165.68" textLength="19.84" lengthAdjust="spacingAndGlyphs">.</tspan><tspan x="181.69" textLength="39.53" lengthAdjust="spacingAndGlyphs">6</tspan></text>
<text y="1075.50" font-size="70"><tspan x="131.19" textLength="38.63" lengthAdjust="spacingAndGlyphs">0</tspan><tspan x="166.58" textLength="19.84" lengthAdjust="spacingAndGlyphs">.</tspan><tspan x="183.74" textLength="37.86" lengthAdjust="spacingAndGlyphs">4</tspan></text>
<text y="1401.50" font-size="70"><tspan x="130.99" textLength="38.63" lengthAdjust="spacingAndGlyphs">0</tspan><tspan x="166.18" textLength="19.84" lengthAdjust="spacingAndGlyphs">.</tspan><tspan x="183.36" textLength="38.09" lengthAdjust="spacingAndGlyphs">2</tspan></text>
<text y="1727.20" font-size="70"><tspan x="182.47" textLength="38.86" lengthAdjust="spacingAndGlyphs">0</tspan></text>
<text y="1826.10" font-size="70"><tspan x="289.67" textLength="38.86" lengthAdjust="spacingAndGlyphs">0</tspan></text>
<text y="1826.80" font-size="70"><tspan x="906.69" textLength="40.47" lengthAdjust="spacingAndGlyphs">5</tspan></text>
<g><text x="1506.45" y="1825.90" font-size="70" clip-path="url(#f1)">1</text><text y="1825.90" font-size="70"><tspan x="1537.79" textLength="38.63" lengthAdjust="spacingAndGlyphs">0</tspan></text></g>
<g><text x="2124.60" y="1825.80" font-size="70" clip-path="url(#f2)">1</text><text y="1825.80" font-size="70"><tspan x="2155.34" textLength="38.36" lengthAdjust="spacingAndGlyphs">5</tspan></text></g>
<text y="1825.90" font-size="65.5"><tspan x="2744.56" textLength="34.67" lengthAdjust="spacingAndGlyphs">2</tspan><tspan x="2779.53" textLength="35.14" lengthAdjust="spacingAndGlyphs">0</tspan></text>
<text y="1958.35" font-size="66.7" stroke="#000" stroke-width="0.9"><tspan x="1349.29">I</tspan><tspan x="1367.85" textLength="57.90" lengthAdjust="spacingAndGlyphs">M</tspan><tspan x="1427.13" textLength="42.05" lengthAdjust="spacingAndGlyphs">A</tspan><tspan x="1468.84" textLength="49.68" lengthAdjust="spacingAndGlyphs">G</tspan><tspan x="1519.32" textLength="37.66" lengthAdjust="spacingAndGlyphs">E</tspan> <tspan x="1572.89" textLength="48.09" lengthAdjust="spacingAndGlyphs">H</tspan><tspan x="1621.97" textLength="38.03" lengthAdjust="spacingAndGlyphs">E</tspan><tspan x="1660.39">I</tspan><tspan x="1678.21" textLength="50.16" lengthAdjust="spacingAndGlyphs">G</tspan><tspan x="1728.23" textLength="47.71" lengthAdjust="spacingAndGlyphs">H</tspan><tspan x="1777.10" textLength="39.43" lengthAdjust="spacingAndGlyphs">T</tspan> <tspan font-size="59" stroke-width="1" dy="-0.05"><tspan x="1845.77" textLength="50.53" lengthAdjust="spacingAndGlyphs">m</tspan><tspan x="1897.26" textLength="50.65" lengthAdjust="spacingAndGlyphs">m</tspan></tspan></text>
<text y="53.8" font-size="68.2" stroke="#000" stroke-width="0.4"><tspan x="2776.17" textLength="38.69" lengthAdjust="spacingAndGlyphs">6</tspan><tspan x="2813.68" textLength="37.35" lengthAdjust="spacingAndGlyphs">0</tspan><tspan x="2850.74" textLength="37.81" lengthAdjust="spacingAndGlyphs">0</tspan><tspan font-size="59" stroke-width="1" dy="-0.3"><tspan x="2888.35" textLength="50.76" lengthAdjust="spacingAndGlyphs">m</tspan><tspan x="2940.24" textLength="50.88" lengthAdjust="spacingAndGlyphs">m</tspan></tspan></text>
<text y="0.00" font-size="67.2" stroke="#000" stroke-width="0.5" transform="translate(47.75 0) rotate(-90)"><tspan x="-1069.25" textLength="46.98" lengthAdjust="spacingAndGlyphs">C</tspan><tspan x="-1024.53" textLength="52.30" lengthAdjust="spacingAndGlyphs">O</tspan><tspan x="-972.53" textLength="48.22" lengthAdjust="spacingAndGlyphs">N</tspan><tspan x="-923.93" textLength="40.19" lengthAdjust="spacingAndGlyphs">T</tspan><tspan x="-883.57" textLength="44.15" lengthAdjust="spacingAndGlyphs">R</tspan><tspan x="-839.28" textLength="42.85" lengthAdjust="spacingAndGlyphs">A</tspan><tspan x="-796.91" textLength="43.45" lengthAdjust="spacingAndGlyphs">S</tspan><tspan x="-754.22" textLength="39.86" lengthAdjust="spacingAndGlyphs">T</tspan></text></g>
</svg></body></html>
